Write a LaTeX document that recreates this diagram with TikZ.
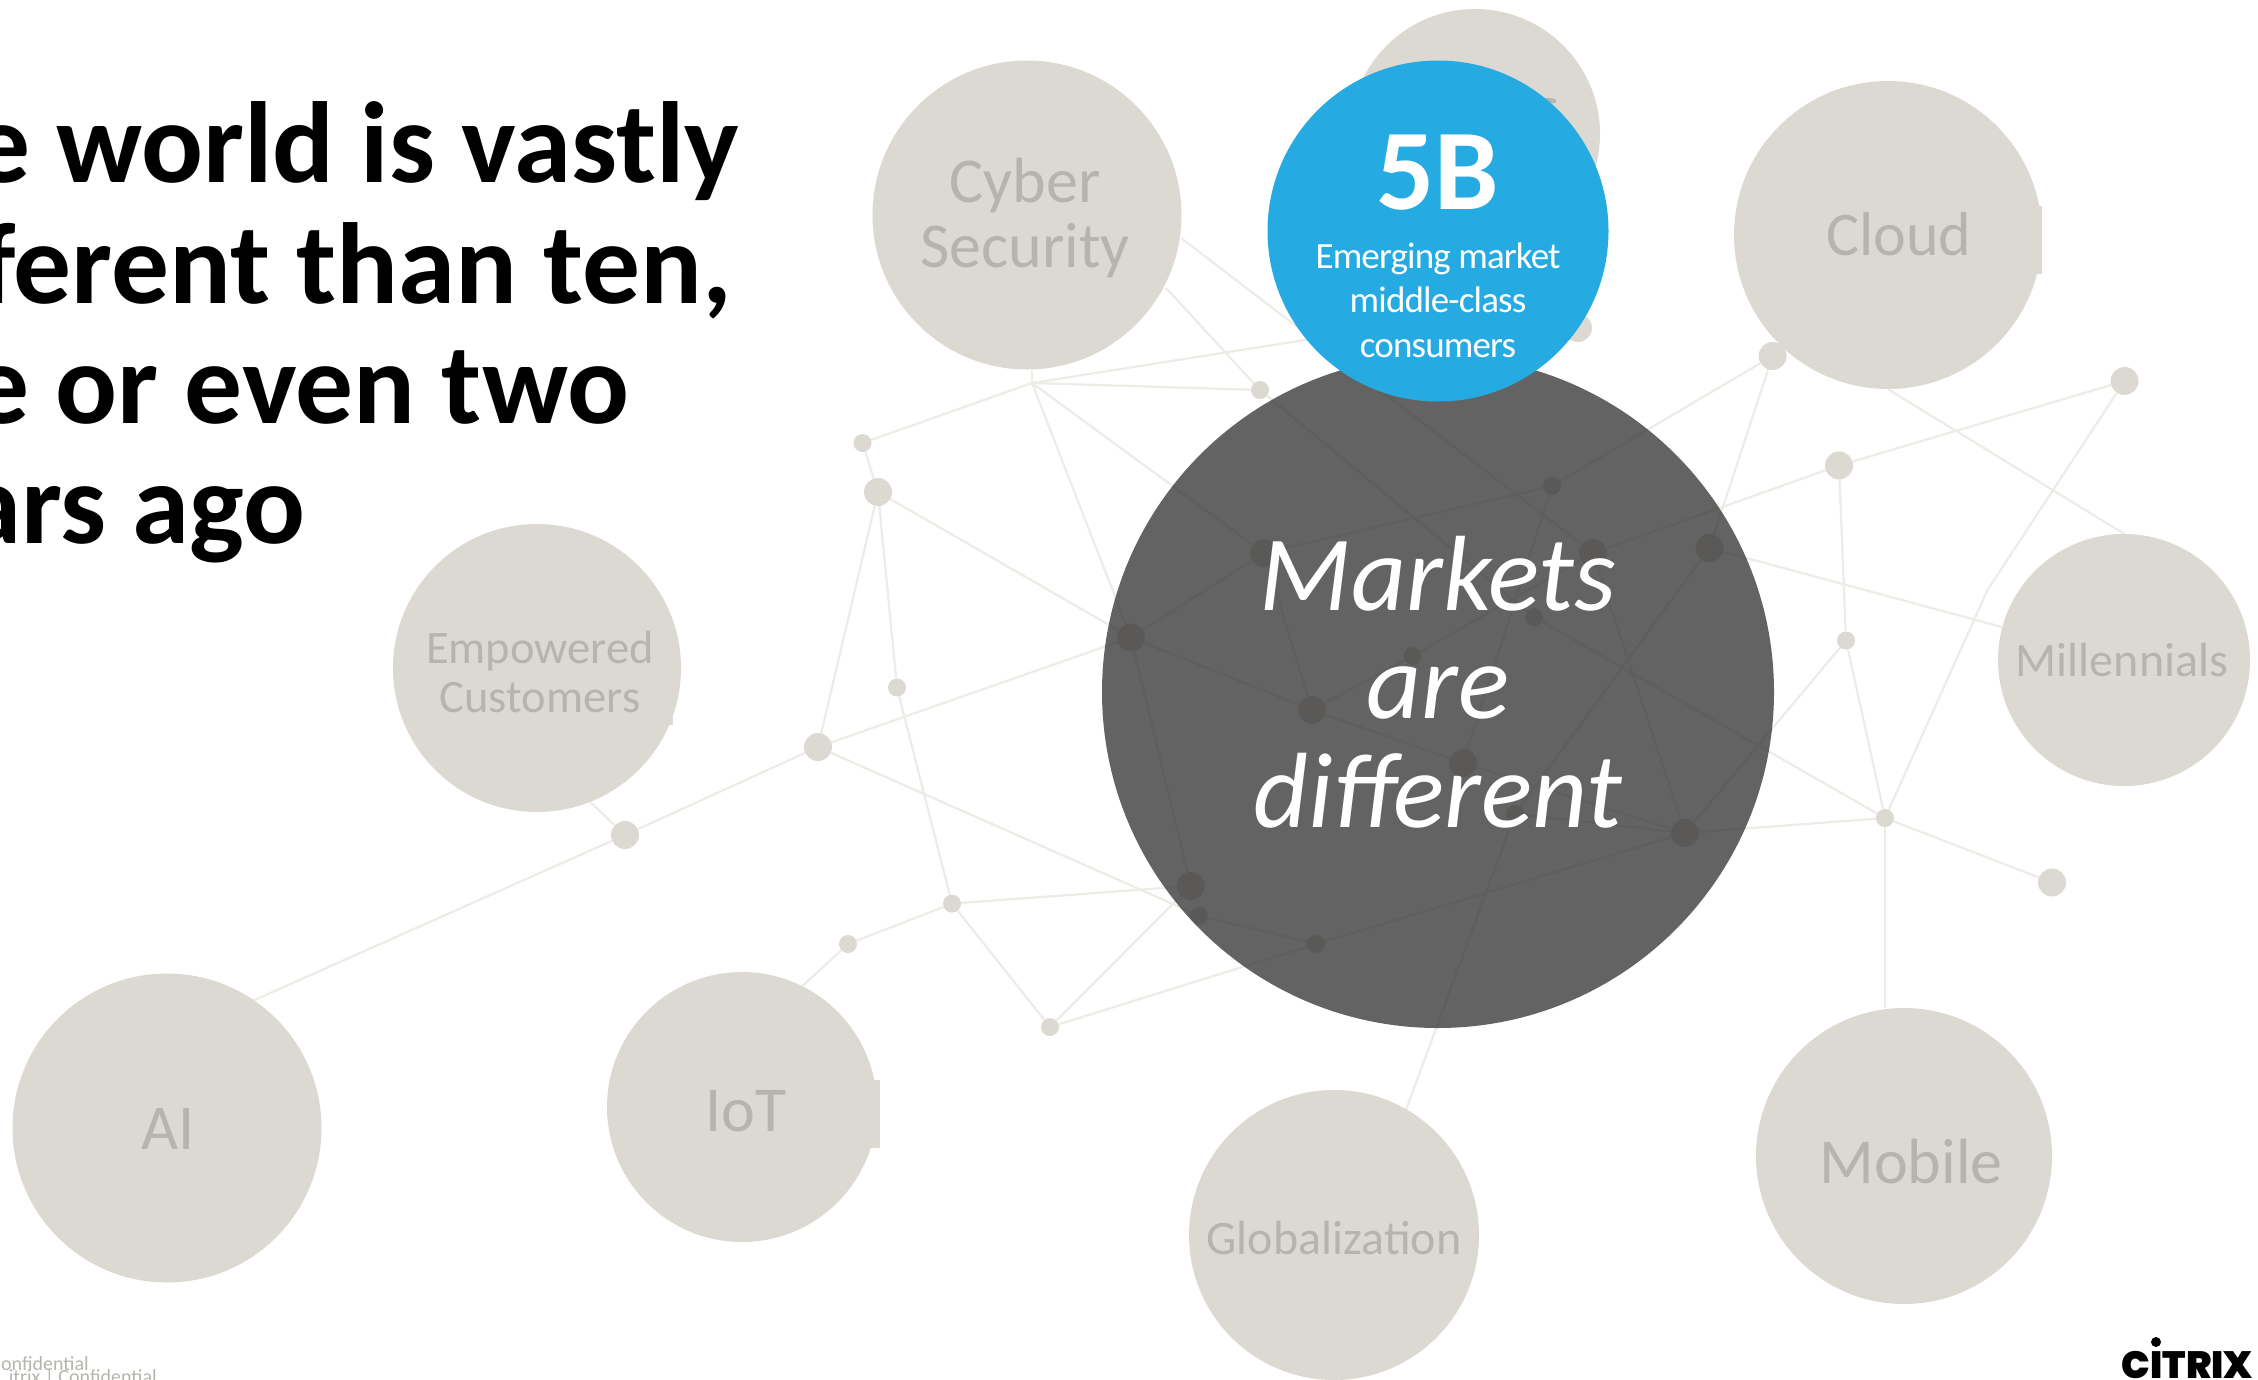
\documentclass[tikz,border=0pt]{standalone}
\usepackage{fontspec}
\setmainfont{Carlito}
\newfontfamily\logofont{Poppins}[UprightFont={Poppins Black}]
\usetikzlibrary{calc}
\definecolor{discgrey}{HTML}{DBD9D2}
\definecolor{linkgrey}{HTML}{EDEDE8}
\definecolor{labelgrey}{HTML}{B6B4AD}
\definecolor{skyblue}{HTML}{25ABE2}
\definecolor{inkdark}{HTML}{2F2F2F}
\pgfdeclarelayer{edges}
\pgfsetlayers{edges,main}
\tikzset{
  disc/.style={circle,fill=discgrey,inner sep=0pt,minimum size=#1},
  hub/.style={disc=28pt},
  dot/.style={disc=18pt},
  link/.style={draw=linkgrey,line width=2.3pt},
  lab/.style={text=labelgrey,align=center,inner sep=0pt,font=\fontsize{#1}{#1}\selectfont},
  title/.style={anchor=base west,inner sep=0pt,text=black,font=\fontsize{115.4}{115.4}\selectfont\bfseries},
  foot/.style={anchor=base east,inner sep=0pt,text=labelgrey,font=\fontsize{20}{20}\selectfont},
}
\begin{document}
\begin{tikzpicture}[x=1pt,y=-1pt]
\useasboundingbox (0,0) rectangle (2258,1379);
\clip (0,0) rectangle (2258,1379);
% small dots
\node[dot] (d1) at (862.5,443) {};
\node[hub] (d2) at (878,492) {};
\node[dot] (d3) at (897,687.5) {};
\node[hub] (d4) at (818,747) {};
\node[hub] (d5) at (625,835) {};
\node[dot] (d6) at (952,903.6) {};
\node[dot] (d7) at (848,944) {};
\node[dot] (d8) at (1050,1027) {};
\node[dot] (d9) at (1260,390) {};
\node[hub] (e1) at (1131,637.5) {};
\node[hub] (e2) at (1264,553) {};
\node[hub] (e3) at (1312,710) {};
\node[dot] (e4) at (1412.6,656) {};
\node[hub] (e5) at (1463,763) {};
\node[dot] (e6) at (1515,814) {};
\node[dot] (e7) at (1534,617) {};
\node[dot] (e8) at (1552,486) {};
\node[hub] (e9) at (1593,553) {};
\node[hub] (f1) at (1709.5,548) {};
\node[hub] (f2) at (1685,833) {};
\node[hub] (f3) at (1190.7,886) {};
\node[dot] (f4) at (1199,915.6) {};
\node[dot] (f5) at (1316,944) {};
\node[hub] (g1) at (1772.6,356) {};
\node[hub] (g2) at (1839,465.5) {};
\node[hub] (g3) at (2124.5,381) {};
\node[dot] (g4) at (1846,640.5) {};
\node[dot] (g5) at (1885,818) {};
\node[hub] (g6) at (2052,882.5) {};
\node[hub] (g7) at (1578,328) {};
\coordinate (J1) at (1032,383);
\coordinate (bend) at (1987.5,590);
\coordinate (c1) at (1181,238);
\coordinate (c2) at (1166,288);
\coordinate (b1) at (1400,325);
\coordinate (a1) at (250,1002);
\coordinate (p1) at (585,797);
\coordinate (i1) at (796,992);
\coordinate (k1) at (1403,1118);
% large discs
\node[disc=309pt] (cyber) at (1027,215) {};
\node[disc=250pt] (hidden) at (1475,134) {};
\node[disc=308pt] (cloud) at (1888,235) {};
\node[disc=252pt] (mill) at (2124,660) {};
\node[disc=288pt] (emp) at (537,668) {};
\node[disc=309pt] (ai) at (167,1128) {};
\node[disc=270pt] (iot) at (742,1107) {};
\node[disc=290pt] (glob) at (1334,1235) {};
\node[disc=296pt] (mobile) at (1904,1156) {};
\fill[discgrey] (860,1080) rectangle (880,1148);
\fill[discgrey] (2030,206) rectangle (2042,274);
\fill[discgrey] (660,700) rectangle (673,725);
\draw[labelgrey,line width=4.5pt,line cap=round] (1547,100) -- (1554,101);
% dark and blue
\node[circle,inner sep=0pt,minimum size=672pt,fill=inkdark,fill opacity=.75] (market) at (1438,692) {};
\node[circle,inner sep=0pt,minimum size=341pt,fill=skyblue] (blue) at (1438,231) {};
% labels
\node[lab=64] (tcyber) at (1025,218) {Cyber\\[1pt]Security};
\node[lab=62] (tcloud) at (1899,234) {Cloud};
\node[lab=48] (tmill) at (2122,660) {Millennials};
\node[lab=46.5] (temp) at (540,672) {Empowered\\[2pt]Customers};
\node[lab=64] (tai) at (168,1129) {AI};
\node[lab=64] (tiot) at (746,1111) {IoT};
\node[lab=48] (tglob) at (1334,1238) {Globalization};
\node[lab=64] (tmobile) at (1911,1161) {Mobile};
\node[inner sep=0pt,align=center,text=white,font=\fontsize{107}{108.5}\selectfont\itshape] (tmarket) at (1438,682) {Markets\\are\\different};
\node[inner sep=0pt,text=white,font=\fontsize{115}{115}\selectfont\bfseries] (t5b) at (1438,173) {5B};
\node[inner sep=0pt,align=center,text=white,font=\fontsize{37}{44.5}\selectfont\addfontfeatures{LetterSpace=-2.3}] (tem) at (1438,300) {Emerging market\\middle-class\\consumers};
% title
\node[title] (l1) at (-28,182) {e world is vastly};
\node[title] (l2) at (-21,303) {ferent than ten,};
\node[title] (l3) at (-28.6,423) {e or even two};
\node[title] (l4) at (-36,543) {ars ago};
% footer
\node[foot] (f1t) at (89,1370) {onfidential};
\node[foot] (f2t) at (157,1383) {itrix | Confidential};
% logo
\node[inner sep=0pt,anchor=base east,font=\fontsize{38}{38}\logofont,text=black] (citrix) at (2253,1378) {CITRIX};
\node[circle,fill=black,inner sep=0pt,minimum size=10pt] (citrixdot) at (2156,1342) {};
% connectors
\begin{pgfonlayer}{edges}
\draw[link] (J1) -- (J1 |- cyber.south);
\draw[link] (J1) -- (d1);
\draw[link] (J1) -- (b1);
\draw[link] (J1) -- (d9);
\draw[link] (J1) -- (e1);
\draw[link] (J1) -- (e2);
\draw[link] (d1) -- (d2);
\draw[link] (d2) -- (e1);
\draw[link] (d2) -- (d4);
\draw[link] (d2) -- (d3);
\draw[link] (d3) -- (d6);
\draw[link] (d4) -- (d5);
\draw[link] (d4) -- (e1);
\draw[link] (d4) -- (f4);
\draw[link] (d5) -- (a1);
\draw[link] (d5) -- (p1);
\draw[link] (d6) -- (d7);
\draw[link] (d7) -- (i1);
\draw[link] (d6) -- (d8);
\draw[link] (d6) -- (f3);
\draw[link] (d8) -- (f3);
\draw[link] (d8) -- (f5);
\draw[link] (f5) -- (f2);
\draw[link] (f4) -- (f5);
\draw[link] (e1) -- (f3);
\draw[link] (e1) -- (e2);
\draw[link] (e1) -- (e3);
\draw[link] (e2) -- (e3);
\draw[link] (e2) -- (e8);
\draw[link] (e3) -- (e4);
\draw[link] (e4) -- (e9);
\draw[link] (e3) -- (e5);
\draw[link] (e5) -- (f2);
\draw[link] (e5) -- (e8);
\draw[link] (e6) -- (f2);
\draw[link] (e6) -- (k1);
\draw[link] (f1) -- (e6);
\draw[link] (d9) -- (e7);
\draw[link] (e7) -- (g5);
\draw[link] (c1) -- (e9);
\draw[link] (c2) -- (d9);
\draw[link] (e9) -- (f2);
\draw[link] (e8) -- (g1);
\draw[link] (g1) -- (f1);
\draw[link] (e9) -- (g2);
\draw[link] (g2) -- (g3);
\draw[link] (g2) -- (g4);
\draw[link] (g4) -- (g5);
\draw[link] (g4) -- (f2);
\draw[link] (g5) -- (f2);
\draw[link] (g5) -- (g6);
\draw[link] (g5) -- (bend) -- (g3);
\draw[link] (g5) -- (g5 |- mobile.north);
\draw[link] (f1) -- (mill);
\draw[link] (cloud.south) -- (mill.north);
\end{pgfonlayer}
\end{tikzpicture}
\end{document}
